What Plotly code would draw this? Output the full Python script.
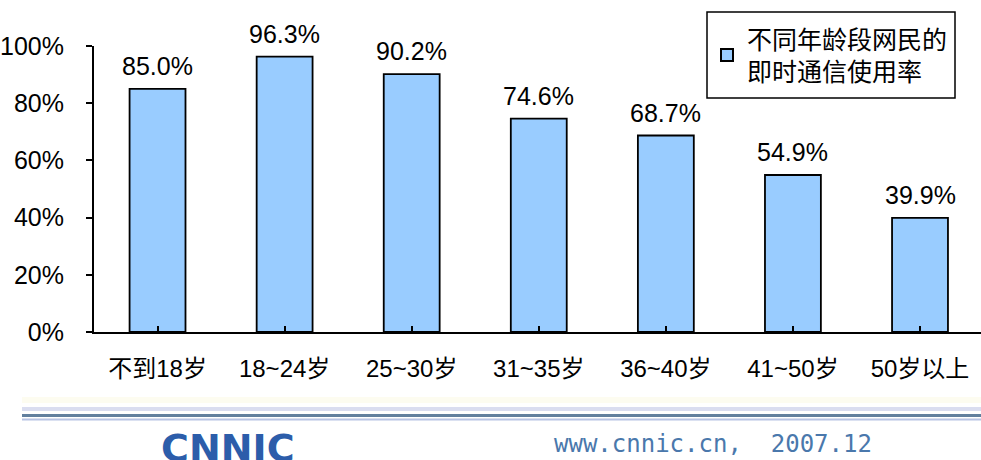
import plotly.graph_objects as go

# data
age_groups = ['不到18岁', '18~24岁', '25~30岁', '31~35岁', '36~40岁', '41~50岁', '50岁以上']
im_usage = [85.0, 96.3, 90.2, 74.6, 68.7, 54.9, 39.9]
series_name = '不同年龄段网民的<br>即时通信使用率'
y_ticks = [0, 20, 40, 60, 80, 100]
y_tick_text = ['0%', '20%', '40%', '60%', '80%', '100%']

FONT = 'Liberation Sans, Arial, Noto Sans CJK SC, sans-serif'


def py(px):
    # pixel row -> paper y (plot area spans rows 46..332)
    return (332 - px) / 286


def px_(px):
    # pixel column -> paper x (plot area spans columns 94..981)
    return (px - 94) / 887


fig = go.Figure()
fig.add_trace(go.Bar(
    x=list(range(len(age_groups))),
    y=im_usage,
    name=series_name,
    width=0.44,
    marker=dict(color='#99CCFF', line=dict(color='black', width=1.8)),
    showlegend=True,
))

# value labels above bars
for i, v in enumerate(im_usage):
    fig.add_annotation(x=i, y=v, text=f'{v:.1f}%', showarrow=False,
                       yanchor='bottom', yshift=7,
                       font=dict(size=25, color='black', family=FONT))

# legend frame
fig.add_shape(type='rect', xref='paper', yref='paper',
              x0=px_(707), x1=px_(955), y0=py(98), y1=py(12),
              fillcolor='white', line=dict(color='black', width=1.5))

# footer decoration (lines, logo, site text)
fig.add_shape(type='rect', xref='paper', yref='paper',
              x0=px_(22), x1=1.0, y0=py(403), y1=py(397),
              fillcolor='#FDFCF0', line=dict(width=0), layer='below')
fig.add_shape(type='rect', xref='paper', yref='paper',
              x0=px_(22), x1=1.0, y0=py(411), y1=py(407),
              fillcolor='#DADDF0', line=dict(width=0), layer='below')
fig.add_shape(type='line', xref='paper', yref='paper',
              x0=px_(22), x1=1.0, y0=py(415.5), y1=py(415.5),
              line=dict(color='#62809E', width=3))
fig.add_shape(type='line', xref='paper', yref='paper',
              x0=px_(22), x1=1.0, y0=py(419.5), y1=py(419.5),
              line=dict(color='#B8C4E4', width=2))
fig.add_annotation(xref='paper', yref='paper', x=px_(228), y=py(424),
                   text='<b>CNNIC</b>', showarrow=False, xanchor='center', yanchor='top',
                   font=dict(size=38, color='#2C5DAA', family='DejaVu Sans, Liberation Sans'))
fig.add_annotation(xref='paper', yref='paper', x=px_(713), y=py(444),
                   text='www.cnnic.cn,  2007.12', showarrow=False,
                   xanchor='center', yanchor='middle',
                   font=dict(size=24, color='#4A78AC', family='DejaVu Sans Mono, monospace'))

fig.update_layout(
    width=981,
    height=460,
    margin=dict(l=94, r=0, t=46, b=128),
    paper_bgcolor='white',
    plot_bgcolor='white',
    font=dict(family=FONT, size=24, color='black'),
    xaxis=dict(
        range=[-0.5, 6.48],
        tickmode='array',
        tickvals=list(range(len(age_groups))),
        ticktext=age_groups,
        tickson='boundaries',
        ticks='inside',
        ticklen=6,
        tickwidth=1.5,
        tickcolor='black',
        showline=True,
        linecolor='black',
        linewidth=2,
        showgrid=False,
        zeroline=False,
        ticklabelstandoff=14,
        tickfont=dict(size=24),
    ),
    yaxis=dict(
        range=[0, 100],
        tickmode='array',
        tickvals=y_ticks,
        ticktext=y_tick_text,
        ticks='outside',
        ticklen=6,
        tickwidth=2,
        tickcolor='black',
        showline=True,
        linecolor='black',
        linewidth=2,
        showgrid=False,
        zeroline=False,
        ticklabelstandoff=17,
        tickfont=dict(size=25),
    ),
    legend=dict(
        x=px_(707),
        y=py(55),
        xanchor='left',
        yanchor='middle',
        bgcolor='rgba(0,0,0,0)',
        borderwidth=0,
        font=dict(size=25, family=FONT),
        itemsizing='constant',
    ),
)

fig.write_html('out.html', config={'displayModeBar': False},
               post_script="document.body.style.margin='0px';")
